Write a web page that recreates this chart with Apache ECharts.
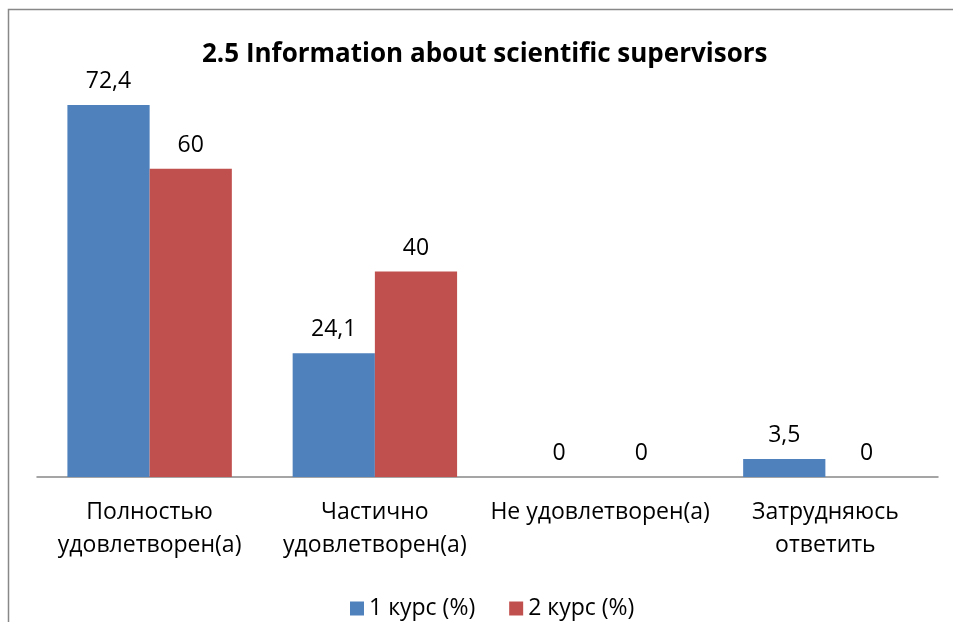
<!DOCTYPE html>
<html>
<head>
<meta charset="utf-8">
<script src="https://cdn.jsdelivr.net/npm/echarts@6/dist/echarts.min.js"></script>
<style>
html, body { margin: 0; padding: 0; background: #fff; }
#chart { width: 953px; height: 622px; }
</style>
</head>
<body>
<div id="chart"></div>
<script>
const categories = ['Полностью\nудовлетворен(а)', 'Частично\nудовлетворен(а)', 'Не удовлетворен(а)', 'Затрудняюсь\nответить']
const seriesNames = ['1 курс (%)', '2 курс (%)']
const course1 = [72.4, 24.1, 0, 3.5]
const course2 = [60, 40, 0, 0]

const font = '"Open Sans", sans-serif'
const chart = echarts.init(document.getElementById('chart'))

const labelFmt = p => String(p.value).replace('.', ',')

chart.setOption({
  color: ['#4f81bd', '#c0504d'],
  textStyle: { fontFamily: font },
  title: {
    text: '2.5 Information about scientific supervisors',
    left: 202,
    top: 42,
    padding: 0,
    textStyle: { fontSize: 26, fontWeight: 'bold', color: '#000', fontFamily: font }
  },
  legend: {
    bottom: -3,
    left: 345,
    itemWidth: 14,
    itemHeight: 14,
    itemGap: 34,
    icon: 'rect',
    textStyle: { fontSize: 23, color: '#000', fontFamily: font }
  },
  graphic: [{
    type: 'rect',
    shape: { x: 8.5, y: 9.5, width: 960, height: 640 },
    style: { fill: null, stroke: '#888', lineWidth: 1.5 },
    silent: true
  }],
  grid: { left: 37, right: 15, top: 66, bottom: 145 },
  xAxis: {
    type: 'category',
    data: categories,
    axisLine: { lineStyle: { color: '#888', width: 1.5 } },
    axisTick: { show: false },
    axisLabel: { fontSize: 23, color: '#000', margin: 19, lineHeight: 33, interval: 0, fontFamily: font }
  },
  yAxis: {
    type: 'value',
    min: 0,
    max: 80,
    show: false,
    splitLine: { show: false }
  },
  series: [
    {
      name: seriesNames[0],
      type: 'bar',
      data: course1,
      barGap: 0,
      barCategoryGap: '27%',
      label: { show: true, position: 'top', distance: 12, fontSize: 23, color: '#000', formatter: labelFmt, fontFamily: font }
    },
    {
      name: seriesNames[1],
      type: 'bar',
      data: course2,
      label: { show: true, position: 'top', distance: 12, fontSize: 23, color: '#000', formatter: labelFmt, fontFamily: font }
    }
  ]
})
</script>
</body>
</html>
